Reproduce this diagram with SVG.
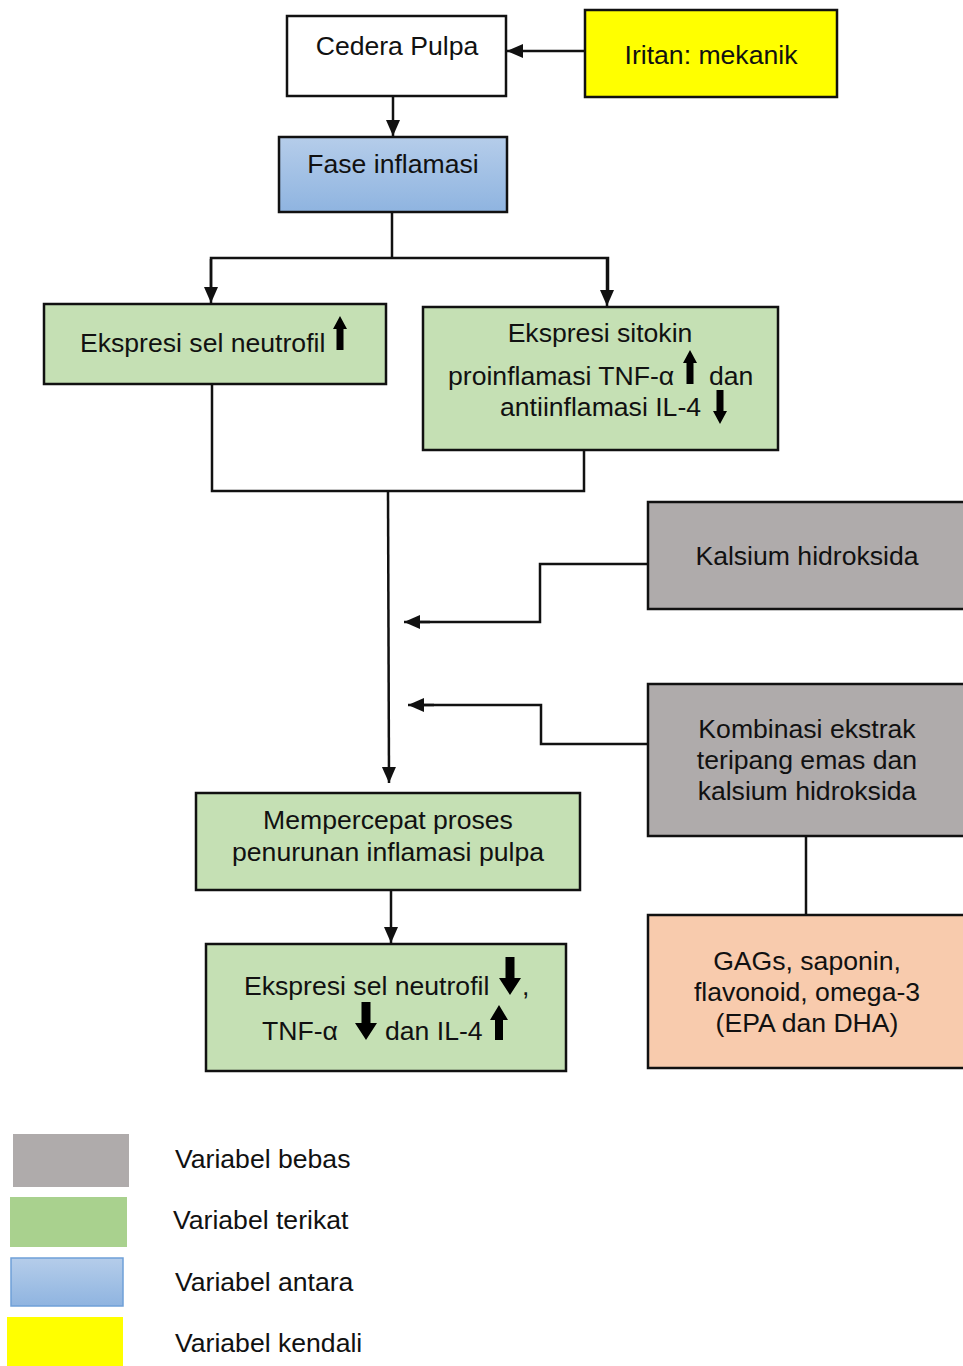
<svg xmlns="http://www.w3.org/2000/svg" xmlns:xlink="http://www.w3.org/1999/xlink" width="963" height="1366" viewBox="0 0 963 1366">
<style>
  text { font-family: "Liberation Sans", Arial, sans-serif; font-size: 26.6px; fill: #111; }
  .c { text-anchor: middle; }
  .box { stroke: #111; stroke-width: 2.5; }
  .conn { fill: none; stroke: #111; stroke-width: 2.5; }
  .white { fill: #ffffff; }
  .yellow { fill: #ffff00; }
  .green { fill: #c5e0b4; }
  .gray { fill: #afabab; }
  .peach { fill: #f8cbad; }
  .blk { fill: #000; }
</style>
<defs>
  <linearGradient id="blueGrad" x1="0" y1="0" x2="0" y2="1">
    <stop offset="0" stop-color="#b5cdea"/>
    <stop offset="1" stop-color="#8fb4e0"/>
  </linearGradient>
  <marker id="ah" markerUnits="userSpaceOnUse" markerWidth="16" markerHeight="16" refX="16" refY="8" orient="auto" viewBox="0 0 16 16">
    <path d="M0,1 L16,8 L0,15 Z" fill="#111"/>
  </marker>
  <path id="upThin" d="M0,0 L7,13 L3.5,13 L3.5,34 L-3.5,34 L-3.5,13 L-7,13 Z"/>
  <path id="downThin" d="M0,0 L7,-13 L3.5,-13 L3.5,-34 L-3.5,-34 L-3.5,-13 L-7,-13 Z"/>
  <path id="upFat" d="M0,0 L9,15 L4,15 L4,35 L-4,35 L-4,15 L-9,15 Z"/>
  <path id="downFat" d="M0,0 L11,-17 L4.5,-17 L4.5,-38 L-4.5,-38 L-4.5,-17 L-11,-17 Z"/>
</defs>

<g id="connectors">
  <line class="conn" x1="585" y1="51" x2="507" y2="51" marker-end="url(#ah)"/>
  <line class="conn" x1="393" y1="96" x2="393" y2="136" marker-end="url(#ah)"/>
  <polyline class="conn" points="392,212 392,258"/>
  <polyline class="conn" points="211,290 211,258 608,258 608,290"/>
  <line class="conn" x1="211" y1="259" x2="211" y2="303" marker-end="url(#ah)"/>
  <line class="conn" x1="607" y1="259" x2="607" y2="306" marker-end="url(#ah)"/>
  <polyline class="conn" points="212,384 212,491 584,491 584,450"/>
  <line class="conn" x1="388" y1="490" x2="389" y2="783" marker-end="url(#ah)"/>
  <polyline class="conn" points="648,564 540,564 540,622 420,622"/>
  <line class="conn" x1="430" y1="622" x2="404" y2="622" marker-end="url(#ah)"/>
  <polyline class="conn" points="648,744 541,744 541,705 424,705"/>
  <line class="conn" x1="434" y1="705" x2="408" y2="705" marker-end="url(#ah)"/>
  <line class="conn" x1="806" y1="836" x2="806" y2="915"/>
  <line class="conn" x1="391" y1="890" x2="391" y2="943" marker-end="url(#ah)"/>
</g>

<g id="cedera-pulpa">
  <rect class="box white" x="287" y="16" width="219" height="80"/>
  <text class="c" x="397" y="55">Cedera Pulpa</text>
</g>

<g id="iritan">
  <rect class="box yellow" x="585" y="10" width="252" height="87"/>
  <text class="c" x="711" y="64">Iritan: mekanik</text>
</g>

<g id="fase-inflamasi">
  <rect class="box" fill="url(#blueGrad)" x="279" y="137" width="228" height="75"/>
  <text class="c" x="393" y="173">Fase inflamasi</text>
</g>

<g id="ekspresi-neutrofil">
  <rect class="box green" x="44" y="304" width="342" height="80"/>
  <text x="80" y="352">Ekspresi sel neutrofil</text>
  <use xlink:href="#upThin" class="blk" x="340" y="316"/>
</g>

<g id="ekspresi-sitokin">
  <rect class="box green" x="423" y="307" width="355" height="143"/>
  <text class="c" x="600" y="342">Ekspresi sitokin</text>
  <text x="448" y="385">proinflamasi TNF-α</text>
  <use xlink:href="#upThin" class="blk" x="690" y="350"/>
  <text x="709" y="385">dan</text>
  <text x="500" y="416">antiinflamasi IL-4</text>
  <use xlink:href="#downThin" class="blk" x="720" y="424"/>
</g>

<g id="kalsium-hidroksida">
  <rect class="box gray" x="648" y="502" width="330" height="107"/>
  <text class="c" x="807" y="565">Kalsium hidroksida</text>
</g>

<g id="kombinasi">
  <rect class="box gray" x="648" y="684" width="330" height="152"/>
  <text class="c" x="807" y="738">Kombinasi ekstrak</text>
  <text class="c" x="807" y="769">teripang emas dan</text>
  <text class="c" x="807" y="800">kalsium hidroksida</text>
</g>

<g id="kandungan">
  <rect class="box peach" x="648" y="915" width="330" height="153"/>
  <text class="c" x="807" y="970">GAGs, saponin,</text>
  <text class="c" x="807" y="1001">flavonoid, omega-3</text>
  <text class="c" x="807" y="1032">(EPA dan DHA)</text>
</g>

<g id="mempercepat">
  <rect class="box green" x="196" y="793" width="384" height="97"/>
  <text class="c" x="388" y="829">Mempercepat proses</text>
  <text class="c" x="388" y="861">penurunan inflamasi pulpa</text>
</g>

<g id="ekspresi-akhir">
  <rect class="box green" x="206" y="944" width="360" height="127"/>
  <text x="244" y="995">Ekspresi sel neutrofil</text>
  <use xlink:href="#downFat" class="blk" x="510" y="995"/>
  <text x="522" y="995">,</text>
  <text x="262" y="1040">TNF-α</text>
  <use xlink:href="#downFat" class="blk" x="366" y="1040"/>
  <text x="385" y="1040">dan IL-4</text>
  <use xlink:href="#upFat" class="blk" x="499" y="1005"/>
</g>

<g id="legend">
  <rect x="13" y="1134" width="116" height="53" fill="#afabab"/>
  <text x="175" y="1168">Variabel bebas</text>
  <rect x="10" y="1197" width="117" height="50" fill="#a9d18e"/>
  <text x="173" y="1229">Variabel terikat</text>
  <rect x="11" y="1258" width="112" height="48" fill="url(#blueGrad)" stroke="#6fa0d8" stroke-width="1.5"/>
  <text x="175" y="1291">Variabel antara</text>
  <rect x="7" y="1317" width="116" height="49" fill="#ffff00"/>
  <text x="175" y="1352">Variabel kendali</text>
</g>
</svg>
